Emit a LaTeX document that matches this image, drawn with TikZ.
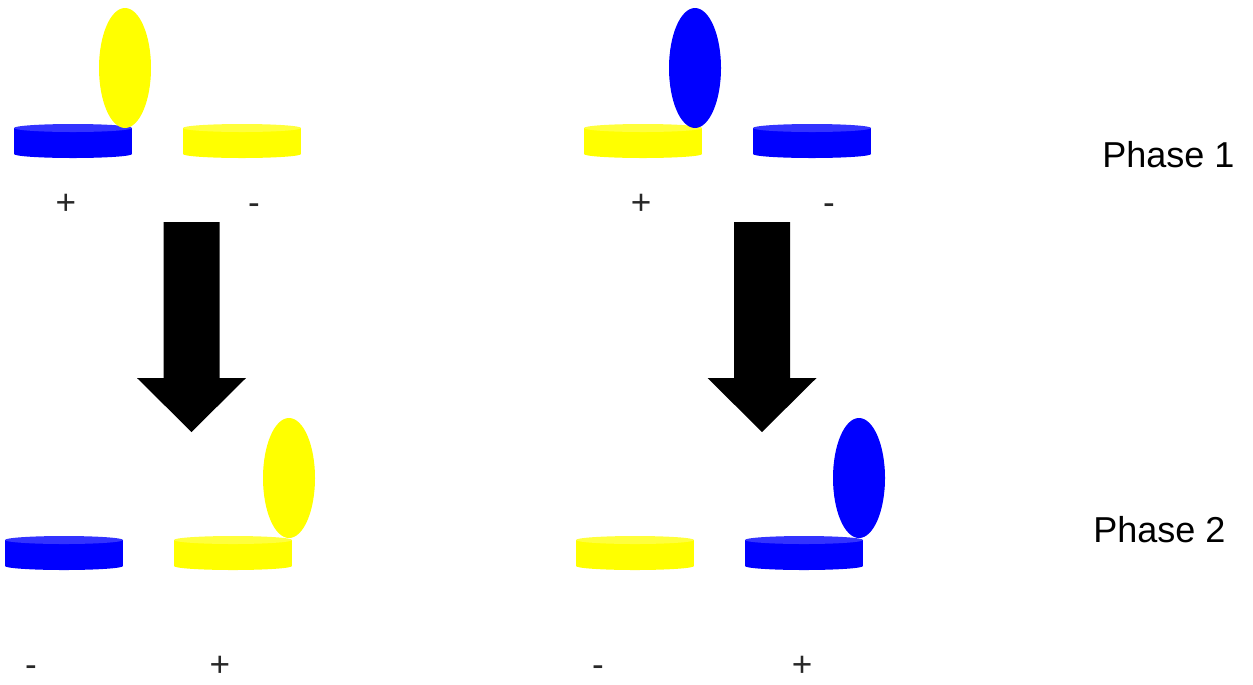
\documentclass[tikz,border=0pt]{standalone}
\usepackage{fontspec}
\setmainfont{Liberation Sans}
\definecolor{dblue}{RGB}{0,0,255}
\definecolor{dbluetop}{RGB}{51,51,255}
\definecolor{dyel}{RGB}{255,255,0}
\definecolor{dyeltop}{RGB}{255,255,60}
\definecolor{signcol}{RGB}{40,40,40}
\tikzset{
  lbl/.style={font=\fontsize{20}{24}\selectfont, text=signcol, inner sep=0pt, anchor=base},
  phase/.style={font=\fontsize{20.5}{24}\selectfont, text=black, inner sep=0pt, anchor=base west},
  bigarrow/.style={fill=black}
}
% disc: #1 left x, #2 top-face centre y, #3 body colour, #4 top colour
\newcommand{\mydisc}[4]{%
  \fill[#3] (#1,#2) rectangle ({#1+118},{#2+26});
  \fill[#3] ({#1+59},{#2+26}) ellipse[x radius=59,y radius=4];
  \fill[#4] ({#1+59},#2) ellipse[x radius=59,y radius=4];
}
\newcommand{\myarrow}[1]{%
  \fill[bigarrow] ({#1-28},222) -- ({#1+28},222) -- ({#1+28},378) -- ({#1+54.5},378)
    -- (#1,432) -- ({#1-54.5},378) -- ({#1-28},378) -- cycle;
}
\begin{document}
\begin{tikzpicture}[x=0.02cm,y=-0.02cm]
\useasboundingbox (0,0) rectangle (1253,684);
% ---- top left
\mydisc{14}{128}{dblue}{dbluetop}
\mydisc{183}{128}{dyel}{dyeltop}
\fill[dyel] (125,68) ellipse[x radius=26,y radius=60];
% ---- top right
\mydisc{584}{128}{dyel}{dyeltop}
\mydisc{753}{128}{dblue}{dbluetop}
\fill[dblue] (695,68) ellipse[x radius=26,y radius=60];
% ---- bottom left
\mydisc{5}{540}{dblue}{dbluetop}
\mydisc{174}{540}{dyel}{dyeltop}
\fill[dyel] (289,478) ellipse[x radius=26,y radius=60];
% ---- bottom right
\mydisc{576}{540}{dyel}{dyeltop}
\mydisc{745}{540}{dblue}{dbluetop}
\fill[dblue] (859,478) ellipse[x radius=26,y radius=60];
% ---- arrows
\myarrow{191.5}
\myarrow{762}
% ---- signs
\node[lbl] (p1) at (66,214) {+};
\node[lbl] (m1) at (254,214) {-};
\node[lbl] (p2) at (641,214) {+};
\node[lbl] (m2) at (829,214) {-};
\node[lbl] (m3) at (31,676) {-};
\node[lbl] (p3) at (220,676) {+};
\node[lbl] (m4) at (598,676) {-};
\node[lbl] (p4) at (802,676) {+};
% ---- phases
\node[phase] (ph1) at (1102,167) {Phase 1};
\node[phase] (ph2) at (1093,542) {Phase 2};
\end{tikzpicture}
\end{document}
